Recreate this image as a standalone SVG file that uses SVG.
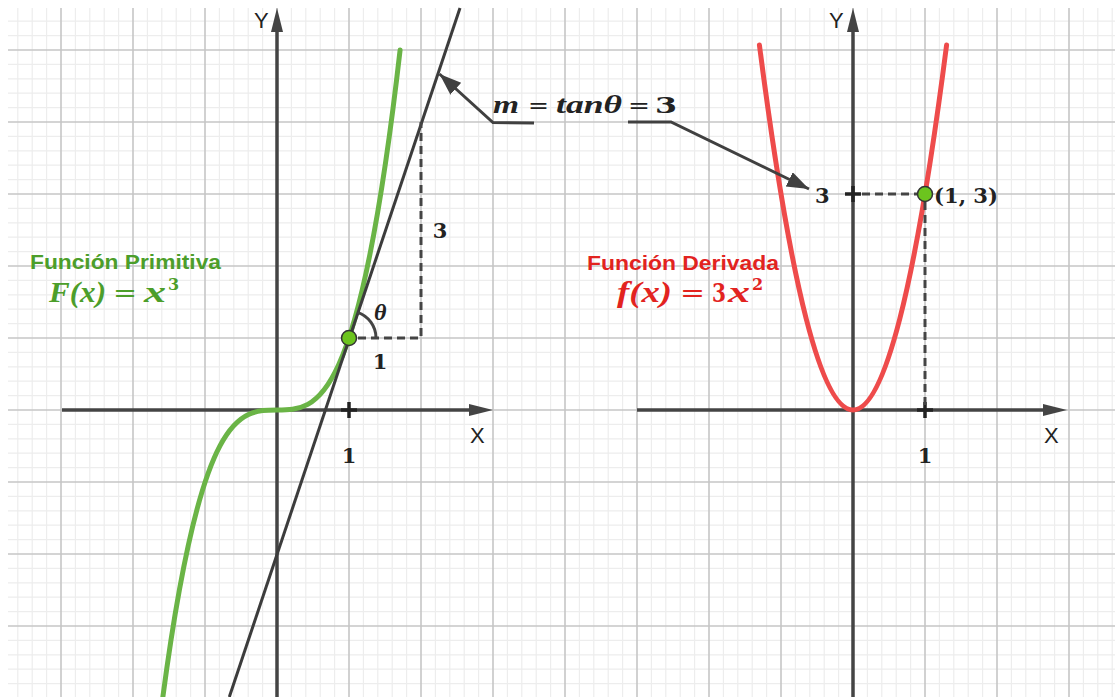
<svg xmlns="http://www.w3.org/2000/svg" width="1115" height="697" viewBox="0 0 1115 697">
<style>
.ax{stroke:#444;stroke-width:3.5;fill:none}
.axh{fill:#444}
.tick{stroke:#222;stroke-width:3.5;fill:none}
.dash{stroke:#444;stroke-width:3;stroke-dasharray:8 5;fill:none}
.conn{stroke:#404040;stroke-width:3;fill:none}
.lbl{font-family:"Liberation Sans",Arial,sans-serif;font-size:22px;fill:#222}
.math{font-family:"Liberation Serif","DejaVu Serif",serif;font-style:italic;font-weight:bold}
.num{font-family:"DejaVu Serif","Liberation Serif",serif;font-weight:bold;font-size:21px;fill:#222}
.eq{font-family:"DejaVu Serif","Liberation Serif",serif;font-weight:normal;font-style:normal}
.eqb{font-family:"DejaVu Serif","Liberation Serif",serif;font-weight:bold;font-style:normal}
.title{font-family:"Liberation Sans",Arial,sans-serif;font-weight:bold;font-size:20px}
.pt{fill:#6cc41e;stroke:#333;stroke-width:1.5}
</style>
<defs>
<pattern id="grid" patternUnits="userSpaceOnUse" x="25" y="14" width="72" height="72">
<path d="M7.2 0V72M21.6 0V72M50.4 0V72M64.8 0V72M0 7.2H72M0 21.6H72M0 50.4H72M0 64.8H72" stroke="#ededed" stroke-width="1.2"/>
<path d="M36 0V72M0 36H72" stroke="#c6c6c6" stroke-width="1.6"/>
</pattern>
<marker id="arr" markerUnits="userSpaceOnUse" markerWidth="24" markerHeight="18" refX="22" refY="8" orient="auto">
<path d="M0 0L22 8L0 16Z" fill="#404040"/>
</marker>
</defs>
<rect width="1115" height="697" fill="#fff"/>
<rect x="8" y="8" width="1107" height="689" fill="url(#grid)"/>

<g id="left-axes">
<line class="ax" x1="62" y1="410" x2="471" y2="410"/>
<path class="axh" d="M493 410L469 404L469 416Z"/>
<line class="ax" x1="277" y1="697" x2="277" y2="30"/>
<path class="axh" d="M277 8L271 32L283 32Z"/>
<text class="lbl" x="254" y="28">Y</text>
<text class="lbl" x="470" y="443">X</text>
<path class="tick" d="M341 410H357M349 402V418"/>
<text class="num" x="349" y="463" text-anchor="middle">1</text>
</g>

<g id="right-axes">
<line class="ax" x1="637" y1="410" x2="1045" y2="410"/>
<path class="axh" d="M1067 410L1043 404L1043 416Z"/>
<line class="ax" x1="853" y1="697" x2="853" y2="30"/>
<path class="axh" d="M853 8L847 32L859 32Z"/>
<text class="lbl" x="829" y="28">Y</text>
<text class="lbl" x="1044" y="443">X</text>
<path class="tick" d="M917 410H933M925 402V418"/>
<path class="tick" d="M845 194H861M853 186V202"/>
<text class="num" x="925" y="463" text-anchor="middle">1</text>
</g>

<g id="primitive">
<path d="M162.9 696.7C241.96 100.7 321.04 743.7 400.1 50" stroke="#6ab446" stroke-width="5" fill="none" stroke-linecap="round"/>
<line x1="229.3" y1="697" x2="460" y2="8" stroke="#3c3c3c" stroke-width="3"/>
<path class="dash" d="M358 338H421V122"/>
<path d="M376 338A27 27 0 0 0 357.5 312.4" stroke="#444" stroke-width="3" fill="none"/>
<circle class="pt" cx="349" cy="338" r="7.5"/>
<text class="math" x="374" y="320" font-size="24" fill="#222">θ</text>
<text class="num" x="380" y="369" text-anchor="middle">1</text>
<text class="num" x="440" y="238" text-anchor="middle">3</text>
<text class="title" x="30" y="269" fill="#4c9e2a" textLength="191" lengthAdjust="spacingAndGlyphs">Función Primitiva</text>
<g fill="#4c9e2a">
<text class="math" x="49" y="302" font-size="29" textLength="57" lengthAdjust="spacingAndGlyphs">F(x)</text>
<text class="eq" x="113" y="302" font-size="26" textLength="24" lengthAdjust="spacingAndGlyphs">=</text>
<text class="math" x="144" y="302" font-size="29" textLength="22" lengthAdjust="spacingAndGlyphs">x</text>
<text class="eqb" x="168" y="290" font-size="16">3</text>
</g>
</g>

<g id="derivative">
<path d="M759.4 45Q853 775 946.6 45" stroke="#ee4b4b" stroke-width="5" fill="none" stroke-linecap="round"/>
<path class="dash" d="M862 194H917M925 202V410"/>
<circle class="pt" cx="925" cy="194" r="7.5"/>
<text class="num" x="815" y="203">3</text>
<text class="num" x="934" y="203" textLength="64" lengthAdjust="spacingAndGlyphs">(1, 3)</text>
<text class="title" x="587" y="270" fill="#e2231f" textLength="192" lengthAdjust="spacingAndGlyphs">Función Derivada</text>
<g fill="#e2231f">
<text class="math" x="617" y="302" font-size="29" textLength="55" lengthAdjust="spacingAndGlyphs">f(x)</text>
<text class="eq" x="680" y="302" font-size="26" textLength="25" lengthAdjust="spacingAndGlyphs">=</text>
<text class="eqb" x="712" y="302" font-size="26" textLength="14" lengthAdjust="spacingAndGlyphs">3</text>
<text class="math" x="728" y="302" font-size="29" textLength="22" lengthAdjust="spacingAndGlyphs">x</text>
<text class="eqb" x="752" y="290" font-size="16">2</text>
</g>
</g>

<g id="slope-label" fill="#222">
<text class="math" x="493" y="113" font-size="26" textLength="26" lengthAdjust="spacingAndGlyphs">m</text>
<text class="eq" x="528" y="113" font-size="23" textLength="21" lengthAdjust="spacingAndGlyphs">=</text>
<text class="math" x="556" y="113" font-size="26" textLength="66" lengthAdjust="spacingAndGlyphs">tanθ</text>
<text class="eq" x="628" y="113" font-size="23" textLength="22" lengthAdjust="spacingAndGlyphs">=</text>
<text class="eqb" x="655" y="113" font-size="22" textLength="22" lengthAdjust="spacingAndGlyphs">3</text>
</g>

<g id="connectors">
<path class="conn" d="M534 123L493 122.5L439.5 74" marker-end="url(#arr)"/>
<path class="conn" d="M628 122L671 122L809 189" marker-end="url(#arr)"/>
</g>
</svg>
